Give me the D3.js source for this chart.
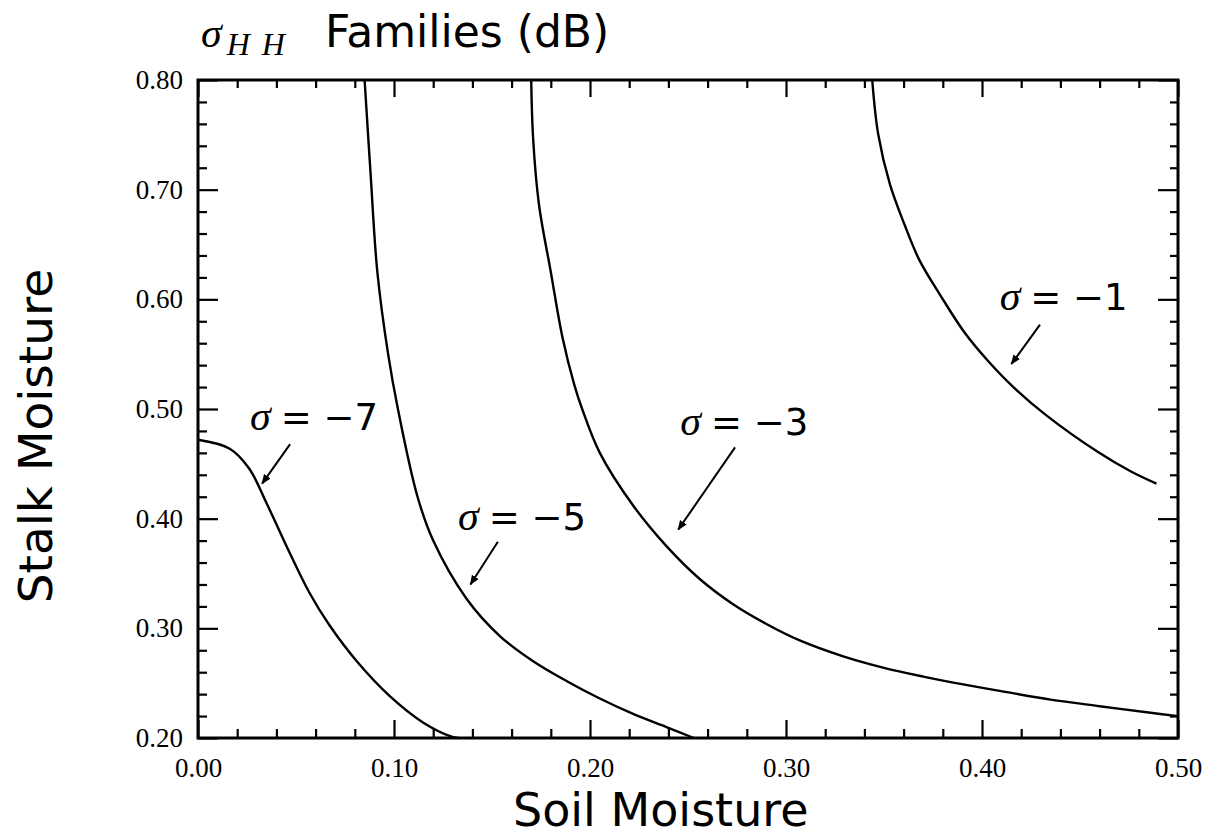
<!DOCTYPE html>
<html>
<head>
<meta charset="utf-8">
<script src="https://cdn.jsdelivr.net/npm/d3@7"></script>
<style>
  body { margin: 0; background: #fff; }
  svg { display: block; }
</style>
</head>
<body>
<svg id="chart" width="1206" height="836"></svg>
<script>
// curves: soil moisture (x) vs stalk moisture (y)
const soilM7 = [0, 0.016, 0.026, 0.035, 0.047, 0.057, 0.067, 0.081, 0.098, 0.115, 0.129, 0.133];
const stalkM7 = [0.472, 0.464, 0.446, 0.414, 0.368, 0.332, 0.303, 0.270, 0.238, 0.214, 0.2015, 0.20];

const soilM5 = [0.085, 0.088, 0.0915, 0.097, 0.102, 0.112, 0.120, 0.137, 0.154, 0.171, 0.188, 0.205, 0.222, 0.239, 0.253];
const stalkM5 = [0.80, 0.716, 0.625, 0.55, 0.50, 0.42, 0.380, 0.327, 0.293, 0.270, 0.252, 0.236, 0.222, 0.210, 0.20];

const soilM3 = [0.170, 0.171, 0.174, 0.180, 0.186, 0.192, 0.196, 0.205, 0.222, 0.239, 0.256, 0.273, 0.290, 0.307, 0.33, 0.35, 0.37, 0.384, 0.409, 0.435, 0.46, 0.486, 0.50];
const stalkM3 = [0.80, 0.746, 0.686, 0.625, 0.565, 0.522, 0.50, 0.46, 0.412, 0.375, 0.345, 0.322, 0.304, 0.289, 0.274, 0.264, 0.256, 0.251, 0.243, 0.235, 0.229, 0.223, 0.220];

const soilM1 = [0.344, 0.347, 0.353, 0.3605, 0.368, 0.379, 0.391, 0.403, 0.416, 0.433, 0.459, 0.476, 0.489];
const stalkM1 = [0.80, 0.751, 0.705, 0.668, 0.636, 0.603, 0.570, 0.544, 0.520, 0.494, 0.461, 0.443, 0.432];

const sigmaLabels = ["−7", "−5", "−3", "−1"];
// label anchor (x, y) and arrow from/to, in data units
const labelX = [0.0265, 0.1327, 0.246, 0.409];
const labelY = [0.481, 0.39, 0.476, 0.59];
const arrowFrom = [[0.047, 0.468], [0.153, 0.379], [0.274, 0.465], [0.4296, 0.577]];
const arrowTo = [[0.0327, 0.432], [0.139, 0.34], [0.245, 0.39], [0.415, 0.541]];

const xTicks = [0, 0.1, 0.2, 0.3, 0.4, 0.5];
const yTicks = [0.2, 0.3, 0.4, 0.5, 0.6, 0.7, 0.8];

const margin = { top: 80, right: 28, bottom: 98, left: 198 };
const width = 1206 - margin.left - margin.right;
const height = 836 - margin.top - margin.bottom;

const svg = d3.select("#chart");
const g = svg.append("g").attr("transform", `translate(${margin.left},${margin.top})`);

const x = d3.scaleLinear().domain([0, 0.5]).range([0, width]);
const y = d3.scaleLinear().domain([0.2, 0.8]).range([height, 0]);

const minorX = d3.range(0, 0.5001, 0.02).filter((d) => Math.abs(d * 10 - Math.round(d * 10)) > 1e-6);
const minorY = d3.range(0.2, 0.8001, 0.02).filter((d) => Math.abs(d * 10 - Math.round(d * 10)) > 1e-6);

function styleAxis(sel) {
  sel.select(".domain").remove();
  sel.selectAll(".tick line").attr("stroke", "#000").attr("stroke-width", 2.2);
}

function styleLabels(sel) {
  sel.selectAll("text")
    .attr("font-family", "Liberation Serif")
    .attr("font-size", 27)
    .attr("fill", "#000");
}

// bottom axis with labels
g.append("g")
  .attr("transform", `translate(0,${height})`)
  .call(d3.axisBottom(x).tickValues(xTicks).tickSize(-18).tickPadding(20).tickFormat(d3.format(".2f")))
  .call(styleAxis)
  .call(styleLabels);
g.append("g")
  .attr("transform", `translate(0,${height})`)
  .call(d3.axisBottom(x).tickValues(minorX).tickSize(-9).tickFormat(""))
  .call(styleAxis);

// top axis, ticks only
g.append("g")
  .call(d3.axisTop(x).tickValues(xTicks).tickSize(-17).tickFormat(""))
  .call(styleAxis);
g.append("g")
  .call(d3.axisTop(x).tickValues(minorX).tickSize(-8).tickFormat(""))
  .call(styleAxis);

// left axis with labels
g.append("g")
  .call(d3.axisLeft(y).tickValues(yTicks).tickSize(-20).tickPadding(15).tickFormat(d3.format(".2f")))
  .call(styleAxis)
  .call(styleLabels);
g.append("g")
  .call(d3.axisLeft(y).tickValues(minorY).tickSize(-9).tickFormat(""))
  .call(styleAxis);

// right axis, ticks only
g.append("g")
  .attr("transform", `translate(${width},0)`)
  .call(d3.axisRight(y).tickValues(yTicks).tickSize(-20).tickFormat(""))
  .call(styleAxis);
g.append("g")
  .attr("transform", `translate(${width},0)`)
  .call(d3.axisRight(y).tickValues(minorY).tickSize(-8).tickFormat(""))
  .call(styleAxis);

// frame
g.append("rect")
  .attr("width", width)
  .attr("height", height)
  .attr("fill", "none")
  .attr("stroke", "#000")
  .attr("stroke-width", 3);

// curves
const curves = [
  [soilM7, stalkM7],
  [soilM5, stalkM5],
  [soilM3, stalkM3],
  [soilM1, stalkM1]
];
const line = d3.line()
  .x((d) => x(d[0]))
  .y((d) => y(d[1]))
  .curve(d3.curveCatmullRom.alpha(0.5));

g.selectAll("path.curve")
  .data(curves.map(([xs, ys]) => xs.map((v, i) => [v, ys[i]])))
  .join("path")
  .attr("class", "curve")
  .attr("d", line)
  .attr("fill", "none")
  .attr("stroke", "#000")
  .attr("stroke-width", 2.4);

// arrows
svg.append("defs").append("marker")
  .attr("id", "head")
  .attr("viewBox", "0 0 10 10")
  .attr("refX", 9)
  .attr("refY", 5)
  .attr("markerWidth", 5)
  .attr("markerHeight", 5)
  .attr("orient", "auto")
  .append("path")
  .attr("d", "M0,1 L10,5 L0,9 Z")
  .attr("fill", "#000");

g.selectAll("line.arrow")
  .data(sigmaLabels)
  .join("line")
  .attr("class", "arrow")
  .attr("x1", (d, i) => x(arrowFrom[i][0]))
  .attr("y1", (d, i) => y(arrowFrom[i][1]))
  .attr("x2", (d, i) => x(arrowTo[i][0]))
  .attr("y2", (d, i) => y(arrowTo[i][1]))
  .attr("stroke", "#000")
  .attr("stroke-width", 2)
  .attr("marker-end", "url(#head)");

const labels = g.selectAll("text.sigma")
  .data(sigmaLabels)
  .join("text")
  .attr("class", "sigma")
  .attr("x", (d, i) => x(labelX[i]))
  .attr("y", (d, i) => y(labelY[i]))
  .attr("font-size", 37)
  .attr("fill", "#000");
labels.append("tspan")
  .attr("font-family", "Liberation Serif")
  .attr("font-style", "italic")
  .attr("font-size", 42)
  .text("σ");
labels.append("tspan")
  .attr("font-family", "DejaVu Sans")
  .attr("dx", 10)
  .text((d) => `= ${d}`);

// title
const title = svg.append("text")
  .attr("x", 201)
  .attr("y", 47)
  .attr("fill", "#000");
title.append("tspan")
  .attr("font-family", "Liberation Serif")
  .attr("font-style", "italic")
  .attr("font-size", 42)
  .text("σ");
title.append("tspan")
  .attr("font-family", "Liberation Serif")
  .attr("font-style", "italic")
  .attr("font-size", 32)
  .attr("dy", 8)
  .attr("dx", 5)
  .attr("letter-spacing", 12)
  .text("HH");
title.append("tspan")
  .attr("x", 325)
  .attr("y", 47)
  .attr("font-family", "DejaVu Sans")
  .attr("font-size", 44)
  .text("Families (dB)");

// axis titles
svg.append("text")
  .attr("x", 513)
  .attr("y", 826)
  .attr("font-family", "DejaVu Sans")
  .attr("font-size", 46)
  .attr("fill", "#000")
  .text("Soil Moisture");

svg.append("text")
  .attr("transform", "translate(52,436) rotate(-90)")
  .attr("text-anchor", "middle")
  .attr("font-family", "DejaVu Sans")
  .attr("font-size", 47)
  .attr("fill", "#000")
  .text("Stalk Moisture");
</script>
</body>
</html>
